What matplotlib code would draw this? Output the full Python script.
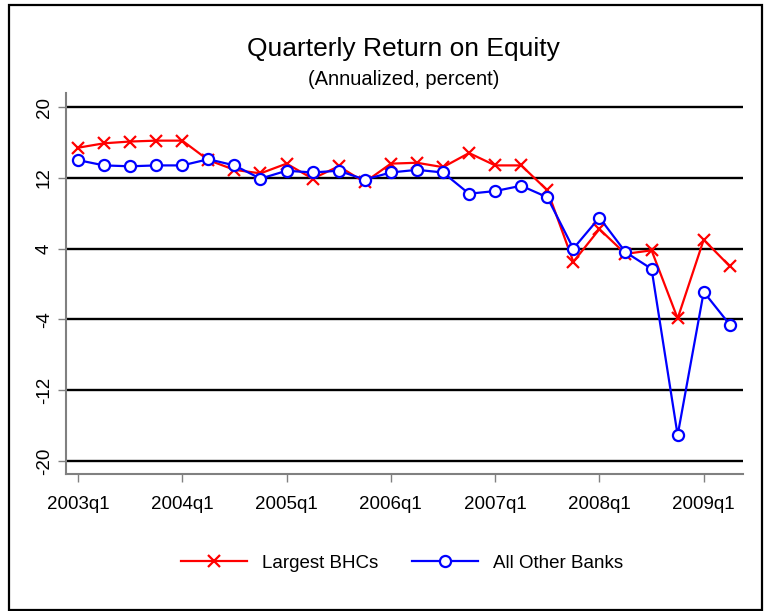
import numpy as np
import matplotlib.pyplot as plt
from matplotlib.patches import Rectangle

plt.rcParams['font.family'] = ['Liberation Sans', 'DejaVu Sans']

# quarters 2003q1 .. 2009q2
quarters = [f"{y}q{q}" for y in range(2003, 2010) for q in range(1, 5)][:26]
largest_bhcs = [15.4, 15.9, 16.1, 16.2, 16.2, 14.0, 12.9, 12.5, 13.6, 11.9, 13.3, 11.5, 13.6,
                13.7, 13.2, 14.8, 13.4, 13.4, 10.6, 2.5, 6.2, 3.4, 3.8, -3.9, 5.0, 2.0]
other_banks = [14.0, 13.4, 13.3, 13.4, 13.4, 14.1, 13.4, 11.9, 12.8, 12.6, 12.8, 11.8, 12.6,
               12.9, 12.6, 10.2, 10.5, 11.1, 9.8, 4.0, 7.5, 3.6, 1.7, -17.1, -0.9, -4.6]
yticks = [20, 12, 4, -4, -12, -20]

x = np.arange(len(quarters))

fig = plt.figure(figsize=(7.7, 6.11), dpi=100)
ax = fig.add_axes([0.0857, 0.224, 0.879, 0.624])

for v in yticks:
    ax.axhline(v, color='black', lw=1.7, zorder=1)

ax.plot(x, largest_bhcs, color='red', lw=1.6, marker='x', ms=8, mew=1.6,
        label='Largest BHCs', zorder=3)
ax.plot(x, other_banks, color='blue', lw=1.6, marker='o', ms=8, mew=1.6,
        mfc='white', label='All Other Banks', zorder=3)

ax.set_xlim(-0.46, 25.5)
ax.set_ylim(-21.5, 21.6)
ax.set_yticks(yticks)
ax.set_yticklabels([str(v) for v in yticks], rotation=90, va='center', fontsize=13.5)
ax.set_xticks(x[::4])
ax.set_xticklabels(quarters[::4], fontsize=13.5)

for s in ['top', 'right']:
    ax.spines[s].set_visible(False)
for s in ['left', 'bottom']:
    ax.spines[s].set_color('#808080')
    ax.spines[s].set_linewidth(1.5)
ax.tick_params(colors='#808080', labelcolor='black', length=6, width=1)
ax.tick_params(axis='x', pad=10)

fig.text(0.524, 0.920, 'Quarterly Return on Equity', ha='center', va='center', fontsize=19)
fig.text(0.524, 0.870, '(Annualized, percent)', ha='center', va='center', fontsize=14.5)

fig.legend(loc='center', bbox_to_anchor=(0.522, 0.078), ncol=2, frameon=False,
           fontsize=13.5, handlelength=3.5, columnspacing=1.8)

fig.patches.append(Rectangle((0.0117, 0.002), 0.978, 0.990, transform=fig.transFigure,
                             fill=False, edgecolor='black', lw=1.6))

fig.savefig('out.png', dpi=100)
